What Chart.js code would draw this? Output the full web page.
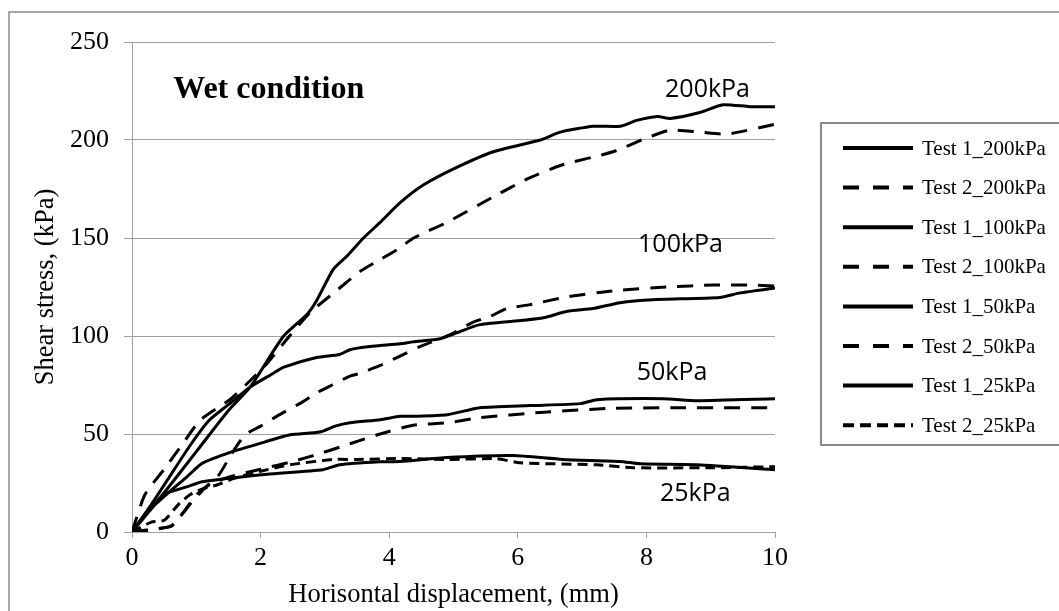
<!DOCTYPE html>
<html>
<head>
<meta charset="utf-8">
<script src="https://cdn.jsdelivr.net/npm/chart.js@4/dist/chart.umd.min.js"></script>
<style>
  html, body { margin: 0; padding: 0; background: #ffffff; }
  #wrap { width: 1059px; height: 611px; }
</style>
</head>
<body>
<div id="wrap"><canvas id="c" width="1059" height="611"></canvas></div>
<script>
// Shear stress (kPa) vs horizontal displacement (mm), direct shear tests, wet condition

const seriesNames = [
  'Test 1_200kPa', 'Test 2_200kPa', 'Test 1_100kPa', 'Test 2_100kPa',
  'Test 1_50kPa', 'Test 2_50kPa', 'Test 1_25kPa', 'Test 2_25kPa'
];

const xTest1_200 = [0, 0.5, 1.0, 1.5, 1.84, 2.35, 2.72, 2.87, 3.13, 3.34, 3.6, 3.86, 4.17, 4.53, 5.05, 5.62, 6.35, 6.66, 7.17, 7.59, 7.85, 8.17, 8.37, 8.83, 9.19, 9.61, 10];
const yTest1_200 = [0, 20, 41, 62, 74, 99.6, 111, 118, 134, 140.7, 150, 158, 168, 177, 186, 194, 200, 204, 207, 207, 210, 212, 211, 214, 218, 217, 217];

const xTest2_200 = [0, 0.2, 0.5, 0.78, 1.06, 1.52, 1.8, 2.1, 2.45, 2.77, 3.16, 3.55, 3.86, 4.12, 4.38, 4.9, 5.62, 6.14, 6.66, 7.48, 8.0, 8.37, 8.83, 9.25, 10];
const yTest2_200 = [0, 19, 32, 44.6, 57, 67.5, 76, 86, 100, 112, 122.6, 133, 139, 144, 150, 158, 171, 180, 187, 194, 201, 205, 204, 203, 208];

const xTest1_100 = [0, 0.3, 0.6, 0.9, 1.2, 1.5, 1.84, 2.2, 2.35, 2.87, 3.23, 3.39, 3.7, 4.17, 4.37, 4.79, 5.05, 5.41, 6.08, 6.4, 6.77, 7.17, 7.59, 8.1, 9.14, 9.46, 10];
const yTest1_100 = [0, 14, 29, 44, 57, 65, 74, 81, 84, 89, 90.6, 93, 94.6, 96, 97, 98.6, 101.6, 105.8, 108, 109.3, 112.6, 114, 117, 118.5, 119.7, 122, 124.5];

const xTest2_100 = [0, 0.3, 0.6, 0.75, 0.95, 1.15, 1.35, 1.55, 1.76, 2.0, 2.25, 2.66, 2.87, 3.11, 3.39, 3.55, 3.86, 4.12, 4.48, 4.95, 5.3, 5.57, 5.83, 6.19, 6.77, 7.48, 8.32, 9.04, 9.61, 10];
const yTest2_100 = [0, 1, 3, 8, 16, 23, 29, 40, 49.6, 54, 59, 66.5, 71, 75, 79.5, 81, 85, 89, 94.6, 100.7, 107, 110, 114, 116, 120, 123, 125, 126, 126, 125.5];

const xTest1_50 = [0, 0.3, 0.6, 0.85, 1.09, 1.56, 2.07, 2.46, 2.92, 3.16, 3.39, 3.86, 4.17, 4.37, 4.9, 5.41, 6.19, 6.97, 7.23, 8.26, 8.79, 10];
const yTest1_50 = [0, 12, 21, 28, 35, 41, 46, 49.6, 51, 54, 55.7, 57.3, 59, 59, 59.8, 63.4, 64.5, 65.5, 67.5, 68, 67, 68];

const xTest2_50 = [0, 0.45, 0.62, 0.8, 1.0, 1.2, 1.5, 2.0, 2.5, 2.92, 3.39, 3.86, 4.37, 4.9, 5.41, 6.35, 7.39, 8.52, 10];
const yTest2_50 = [0, 2, 3, 10, 19, 24, 28, 32, 36, 40, 45, 50, 54.5, 55.7, 58.3, 61, 63, 63.4, 63.4];

const xTest1_25 = [0, 0.3, 0.56, 0.85, 1.09, 1.6, 2.1, 2.97, 3.23, 3.86, 4.17, 4.9, 5.93, 6.7, 7.59, 7.9, 8.79, 10];
const yTest1_25 = [0, 13, 20, 23, 25.6, 27.7, 29.5, 31.8, 34.3, 35.8, 36, 38, 39, 37, 36, 34.8, 34.3, 31.8];

const xTest2_25 = [0, 0.3, 0.5, 0.72, 0.9, 1.1, 1.32, 1.6, 2.0, 2.46, 3.13, 3.5, 4.17, 4.9, 5.67, 6.03, 7.23, 7.79, 9.04, 10];
const yTest2_25 = [0, 5, 6, 14, 19, 22, 24, 27.5, 31, 34.3, 37, 37, 37.5, 37, 37.4, 35.3, 34.3, 32.8, 32.8, 33.3];

const xTicks = [0, 2, 4, 6, 8, 10];
const yTicks = [0, 50, 100, 150, 200, 250];

// curve labels placed in data units
const curveLabels = ['200kPa', '100kPa', '50kPa', '25kPa'];
const curveLabelX = [8.29, 7.87, 7.85, 8.21];
const curveLabelY = [222, 143, 77.7, 16];
const panelTitle = 'Wet condition';

const xs = [xTest1_200, xTest2_200, xTest1_100, xTest2_100, xTest1_50, xTest2_50, xTest1_25, xTest2_25];
const ys = [yTest1_200, yTest2_200, yTest1_100, yTest2_100, yTest1_50, yTest2_50, yTest1_25, yTest2_25];

const DASH = [16, 11];
const SHORT_DASH = [10, 6];
const dashes = [[], DASH, [], DASH, [], DASH, [], SHORT_DASH];

const serif = "'Liberation Serif', 'Times New Roman', serif";

const datasets = seriesNames.map((name, i) => ({
  label: name,
  data: xs[i].map((x, k) => ({ x: x, y: ys[i][k] })),
  borderColor: '#000000',
  backgroundColor: '#000000',
  borderWidth: 3,
  borderDash: dashes[i],
  pointRadius: 0,
  showLine: true,
  tension: 0.2,
  fill: false
}));

const framePlugin = {
  id: 'frame',
  beforeDraw(chart) {
    const ctx = chart.ctx;
    ctx.save();
    ctx.fillStyle = '#ffffff';
    ctx.fillRect(0, 0, chart.width, chart.height);
    ctx.strokeStyle = '#8a8a8a';
    ctx.lineWidth = 1.5;
    ctx.strokeRect(9, 12, chart.width + 20, chart.height + 20);
    ctx.restore();
  }
};

const decorPlugin = {
  id: 'decor',
  afterDraw(chart) {
    const ctx = chart.ctx;
    const xs_ = chart.scales.x, ys_ = chart.scales.y;
    ctx.save();

    // panel title
    ctx.fillStyle = '#000000';
    ctx.font = "bold 32px " + serif;
    ctx.textBaseline = 'alphabetic';
    ctx.textAlign = 'left';
    ctx.fillText(panelTitle, xs_.getPixelForValue(0.64), ys_.getPixelForValue(221.6));

    // curve labels
    ctx.font = "25px 'Open Sans', 'Liberation Sans', sans-serif";
    curveLabels.forEach((t, i) => {
      ctx.fillText(t, xs_.getPixelForValue(curveLabelX[i]), ys_.getPixelForValue(curveLabelY[i]));
    });

    // legend box
    const boxL = 821, boxT = 123, boxB = 445;
    ctx.strokeStyle = '#8a8a8a';
    ctx.lineWidth = 2;
    ctx.beginPath();
    ctx.moveTo(chart.width + 10, boxT);
    ctx.lineTo(boxL, boxT);
    ctx.lineTo(boxL, boxB);
    ctx.lineTo(chart.width + 10, boxB);
    ctx.stroke();

    ctx.font = "21px " + serif;
    ctx.textBaseline = 'middle';
    chart.data.datasets.forEach((ds, i) => {
      const y = 148 + i * 39.6;
      ctx.strokeStyle = '#000000';
      ctx.lineWidth = 4;
      ctx.setLineDash(ds.borderDash && ds.borderDash.length ? (i === 7 ? [11, 6] : [16, 14]) : []);
      ctx.beginPath();
      ctx.moveTo(843, y);
      ctx.lineTo(913, y);
      ctx.stroke();
      ctx.setLineDash([]);
      ctx.fillStyle = '#000000';
      ctx.fillText(ds.label, 922, y + 1);
    });
    ctx.restore();
  }
};

new Chart(document.getElementById('c'), {
  type: 'scatter',
  data: { datasets: datasets },
  options: {
    responsive: false,
    animation: false,
    layout: { padding: { left: 0, top: 42, right: 284, bottom: 0 } },
    plugins: { legend: { display: false }, tooltip: { enabled: false } },
    scales: {
      x: {
        type: 'linear',
        min: 0, max: 10,
        afterFit(scale) { scale.height = 79; },
        afterBuildTicks(scale) { scale.ticks = xTicks.map(v => ({ value: v })); },
        grid: { display: true, drawOnChartArea: false, drawTicks: true, tickLength: 6, color: '#a0a0a0', lineWidth: 1 },
        border: { display: true, color: '#a0a0a0', width: 1 },
        ticks: { color: '#000000', font: { family: serif, size: 26 }, padding: 5, maxRotation: 0 },
        title: { display: true, text: 'Horisontal displacement, (mm)', color: '#000000', font: { family: serif, size: 26.5 }, padding: { top: 0, bottom: 0 } }
      },
      y: {
        type: 'linear',
        min: 0, max: 250,
        afterFit(scale) { scale.width = 132; },
        afterBuildTicks(scale) { scale.ticks = yTicks.map(v => ({ value: v })); },
        grid: { display: true, drawOnChartArea: true, drawTicks: true, tickLength: 8, color: '#a0a0a0', lineWidth: 1 },
        border: { display: true, color: '#a0a0a0', width: 1 },
        ticks: { color: '#000000', font: { family: serif, size: 26 }, padding: 15 },
        title: { display: true, text: 'Shear stress, (kPa)', color: '#000000', font: { family: serif, size: 26.5 }, padding: { top: 30, bottom: 0 } }
      }
    }
  },
  plugins: [framePlugin, decorPlugin]
});
</script>
</body>
</html>
